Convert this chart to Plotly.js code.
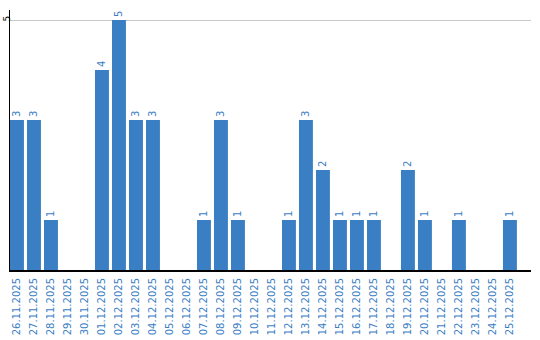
<!DOCTYPE html>
<html><head><meta charset="utf-8">
<script src="https://cdn.plot.ly/plotly-3.0.1.min.js"></script>
<style>html,body{margin:0;padding:0;background:#fff;}#c{width:540px;height:340px;}</style>
</head><body><div id="c"></div>
<script>
const dates = ["26.11.2025","27.11.2025","28.11.2025","29.11.2025","30.11.2025","01.12.2025","02.12.2025","03.12.2025","04.12.2025","05.12.2025","06.12.2025","07.12.2025","08.12.2025","09.12.2025","10.12.2025","11.12.2025","12.12.2025","13.12.2025","14.12.2025","15.12.2025","16.12.2025","17.12.2025","18.12.2025","19.12.2025","20.12.2025","21.12.2025","22.12.2025","23.12.2025","24.12.2025","25.12.2025"];
const counts = [3,3,1,0,0,4,5,3,3,0,0,1,3,1,0,0,1,3,2,1,1,1,0,2,1,0,1,0,0,1];
const yTicks = [5];

const blue = '#3a7ec4';
const labels = counts.map(v => v > 0 ? String(v) : '');

Plotly.newPlot('c', [{
  type: 'bar',
  x: dates,
  y: counts,
  marker: {color: blue},
  width: 0.82,
  text: labels,
  textposition: 'outside',
  textangle: -90,
  cliponaxis: false,
  textfont: {family: 'DejaVu Sans', size: 10, color: blue},
  hoverinfo: 'none'
}], {
  width: 540, height: 340,
  margin: {l: 10, r: 9, t: 10, b: 70, pad: 0},
  paper_bgcolor: '#fff', plot_bgcolor: '#fff',
  showlegend: false,
  bargap: 0.18,
  xaxis: {
    type: 'category',
    range: [-0.41, 30.24],
    tickangle: -90,
    ticklabelstandoff: 2,
    tickfont: {family: 'DejaVu Sans', size: 10, color: blue},
    showgrid: false,
    showline: true, linecolor: '#000', linewidth: 2,
    ticks: '', ticklen: 0,
    zeroline: false
  },
  yaxis: {
    range: [0, 5.2],
    tickvals: yTicks,
    ticktext: yTicks.map(String),
    tickangle: -90,
    ticklabelstandoff: -5,
    tickfont: {family: 'DejaVu Sans', size: 9, color: '#000'},
    showgrid: true, gridcolor: '#c8c8c8', gridwidth: 1,
    showline: true, linecolor: '#000', linewidth: 1,
    ticks: '', zeroline: false
  }
}, {staticPlot: true, displayModeBar: false});
</script></body></html>
